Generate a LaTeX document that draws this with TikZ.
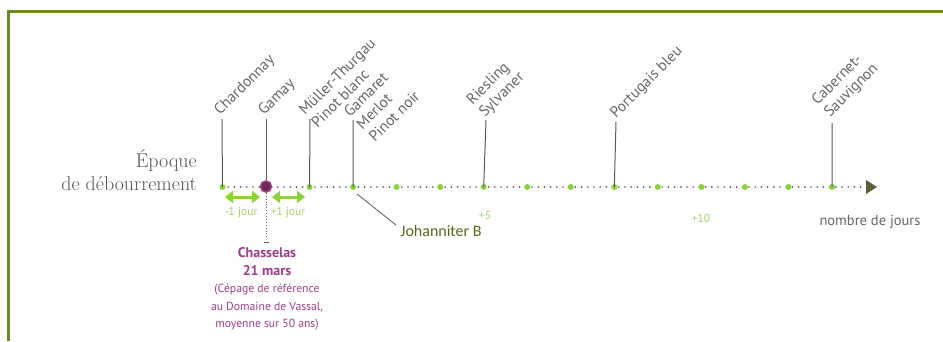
\documentclass[tikz,border=0pt]{standalone}
\usepackage{fontspec}
\setsansfont{PT Sans}
\newfontfamily\carl{Carlito}
\usetikzlibrary{arrows.meta}
\definecolor{framec}{HTML}{6B8A23}
\definecolor{ltgreen}{HTML}{8CD23C}
\definecolor{lbl}{HTML}{666666}
\definecolor{stemc}{HTML}{5A5A5A}
\definecolor{purp}{HTML}{9A3F88}
\definecolor{purpdark}{HTML}{6E2A55}
\definecolor{jgreen}{HTML}{56691C}
\definecolor{axisarrow}{HTML}{5C5C36}
\definecolor{jourg}{HTML}{A6D466}
\definecolor{titlec}{HTML}{555555}
\begin{document}
\begin{tikzpicture}[x=1pt,y=-1pt,
  vlabel/.style={rotate=45,anchor=base west,inner sep=0pt,font=\sffamily\fontsize{15.3}{18}\selectfont,text=lbl},
  stem/.style={draw=stemc,line width=1pt},
  gdot/.style={circle,fill=ltgreen,inner sep=0pt,minimum size=6pt},
  pdot/.style={circle,fill=purpdark,draw=purp,line width=1.6pt,inner sep=0pt,minimum size=11pt},
  axisline/.style={draw=stemc,line width=1.9pt,line cap=round,dash pattern=on 0pt off 6.2pt},
  garrow/.style={draw=ltgreen,line width=3pt,{Triangle[length=8pt,width=12pt]}-{Triangle[length=8pt,width=12pt]}},
  jourtxt/.style={font=\sffamily\fontsize{11.5}{13}\selectfont,text=jourg,inner sep=0pt},
  title/.style={anchor=base east,inner sep=0pt,font=\fontsize{20}{24}\selectfont,text=titlec}
]
\useasboundingbox (0,0) rectangle (943,341);
\fill[white] (0,0) rectangle (943,341);
\draw[framec,line width=3pt] (8.8,341) -- (8.8,11) -- (943,11);

% title
\node[title] (t1) at (197,167) {Époque};
\node[title] (t2) at (197,190) {de débourrement};

% axis
\coordinate (axstart) at (222,187);
\coordinate (axend) at (864,187);
\draw[axisline] (axstart) -- (axend);
\fill[axisarrow] (866,180) -- (877,187) -- (866,194) -- cycle;

% dots
\foreach \k in {-1,1,2,3,4,5,6,7,8,9,10,11,12,13}{
  \node[gdot] (d\k) at ({266+43.54*\k},187) {};
}
\node[pdot] (d0) at (266,186.5) {};

% stems and labels
\coordinate (sChar) at (222,119);
\coordinate (sGam) at (266,119);
\coordinate (sMul) at (310,119);
\coordinate (sGmt) at (353,120);
\coordinate (sRie) at (486,120);
\coordinate (sPor) at (616,122);
\coordinate (sCab) at (832,123);
\draw[stem] (sChar) -- (d-1.center);
\draw[stem] (sGam) -- (d0.north);
\draw[stem] (sMul) -- (d1.center);
\draw[stem] (sGmt) -- (d2.center);
\draw[stem] (sRie) -- (d5.center);
\draw[stem] (sPor) -- (d8.center);
\draw[stem] (sCab) -- (d13.center);

\node[vlabel] (lChar) at (220,116) {Chardonnay};
\node[vlabel] (lGam) at (264,116) {Gamay};
\node[vlabel] (lMul1) at (305,116) {Müller-Thurgau};
\node[vlabel] (lMul2) at (317.5,128.5) {Pinot blanc};
\node[vlabel] (lGmt1) at (350,118) {Gamaret};
\node[vlabel] (lGmt2) at (362.5,130.5) {Merlot};
\node[vlabel] (lGmt3) at (375,143) {Pinot noir};
\node[vlabel] (lRie1) at (472.5,105.5) {Riesling};
\node[vlabel] (lRie2) at (485,118) {Sylvaner};
\node[vlabel] (lPor) at (616,119) {Portugais bleu};
\node[vlabel] (lCab1) at (817.5,105.5) {Cabernet-};
\node[vlabel] (lCab2) at (830,118) {Sauvignon};

% +/- 1 day arrows
\coordinate (a1) at (225,197);
\coordinate (a2) at (260,197);
\coordinate (a3) at (272,197);
\coordinate (a4) at (305,197);
\draw[garrow] (a1) -- (a2);
\draw[garrow] (a3) -- (a4);
\node[jourtxt] (m1) at (241,213) {-1 jour};
\node[jourtxt] (p1) at (288,213) {+1 jour};
\node[jourtxt] (p5) at (485,216) {+5};
\node[jourtxt] (p10) at (701,218) {+10};

\node[font=\sffamily\fontsize{14.5}{16}\selectfont,text=lbl,inner sep=0pt] (nj) at (870,222) {nombre de jours};

% Chasselas reference
\coordinate (cEnd) at (266,237);
\draw[purp,line width=0.9pt,dotted] (d0.south) -- (cEnd);
\draw[purp,line width=1pt] (263.5,242) -- (268.5,242);
\node[align=center,text=purp,inner sep=0pt,font=\sffamily\fontsize{11.7}{17.5}\selectfont] (chas) at (267,289)
 {{\bfseries\fontsize{14}{17.5}\selectfont Chasselas}\\{\bfseries\fontsize{14}{17.5}\selectfont 21 mars}\\(Cépage de référence\\au Domaine de Vassal,\\moyenne sur 50 ans)};

% Johanniter B
\node[font=\carl\fontsize{16}{18}\selectfont,text=jgreen,inner sep=0pt] (jb) at (441,231) {Johanniter B};
\coordinate (jA) at (357,194);
\coordinate (jB) at (396,225);
\draw[stemc,line width=0.8pt] (jA) -- (jB);
\end{tikzpicture}
\end{document}
